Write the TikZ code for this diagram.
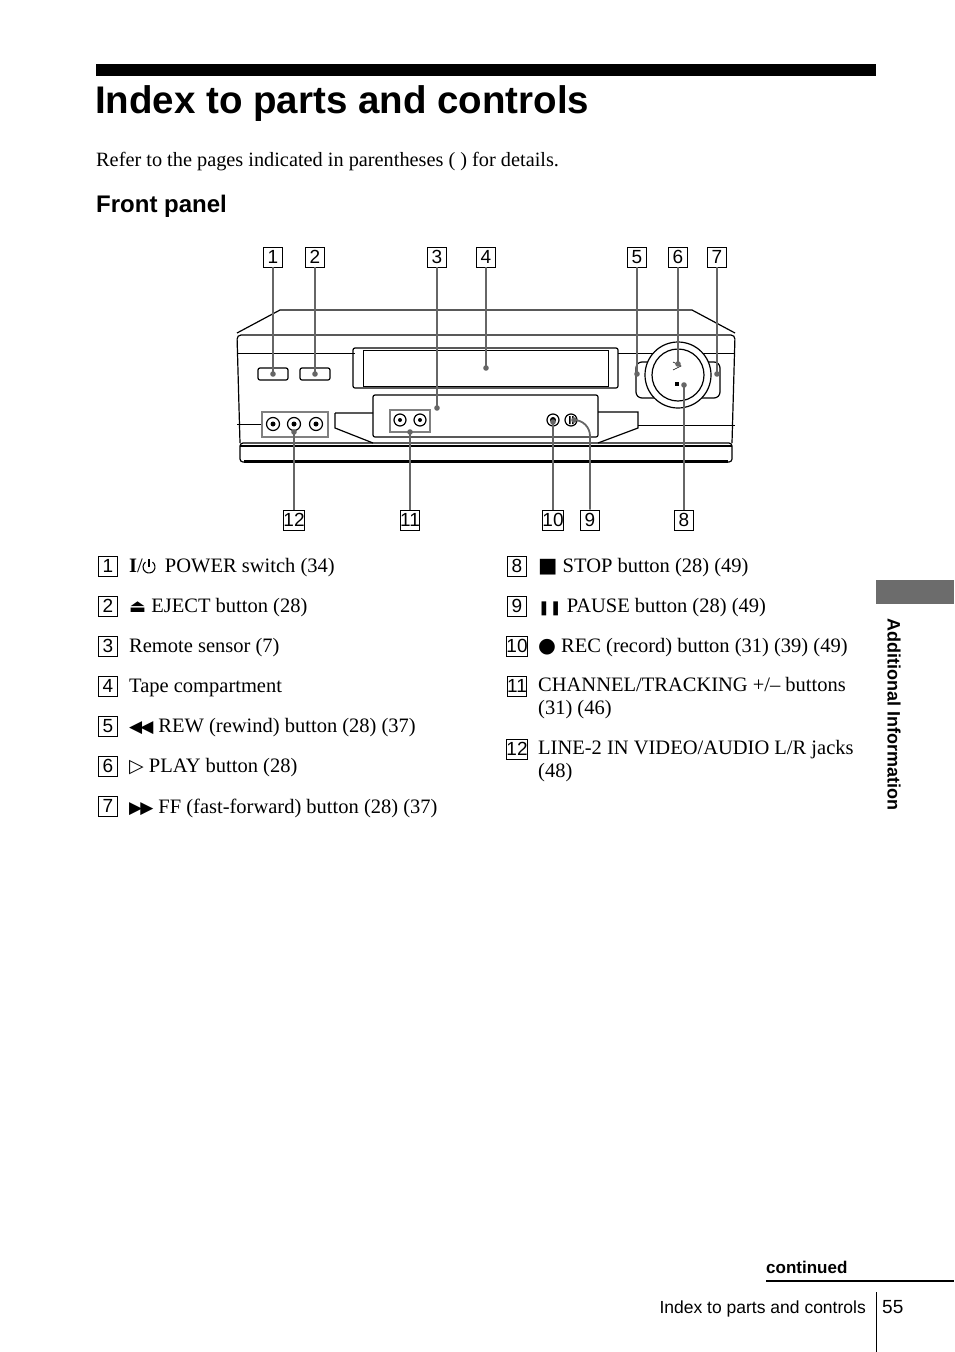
\documentclass[tikz,border=0pt]{standalone}
\usepackage{fontspec}
\setmainfont{Liberation Serif}
\setsansfont{Liberation Sans}
\newfontfamily\djv{DejaVu Sans}
\begin{document}
\begin{tikzpicture}[x=1pt,y=-1pt,
 nb/.style={draw,line width=0.8pt,minimum width=19pt,minimum height=20pt,inner sep=0pt,text height=13pt,text depth=1pt,font=\sffamily\fontsize{19}{19}\selectfont},
 it/.style={anchor=west,font=\fontsize{20.5}{23}\selectfont,inner sep=0pt,align=left},
 ld/.style={draw=gray!80!black,line width=1.8pt},
 vc/.style={line width=1.2pt}]
\useasboundingbox (0,0) rectangle (954,1352);
\fill (96,64) rectangle (876,76);
\node[anchor=west,font=\sffamily\bfseries\fontsize{38.5}{38}\selectfont,inner sep=0] (title) at (95,104) {Index to parts and controls};
\node[anchor=west,font=\fontsize{20.3}{22}\selectfont,inner sep=0] (refer) at (96,162) {Refer to the pages indicated in parentheses ( ) for details.};
\node[anchor=west,font=\sffamily\bfseries\fontsize{24}{24}\selectfont,inner sep=0] (fp) at (96,206) {Front panel};
% VCR
\draw[vc] (237,333) -- (280,310) -- (692,310) -- (735,333);
\draw[vc,rounded corners=4] (240,443) -- (237,335) -- (735,335) -- (732,443);
\draw[line width=1pt] (237,353) -- (355,353) (618,353) -- (735,353);
\draw[vc,rounded corners=3] (240,443) rectangle (732,462);
\draw[line width=3pt] (244,461) -- (728,461);
\draw[vc] (240,446) -- (732,446);
\draw[vc,rounded corners=2] (353,348) rectangle (618,388);
\draw[line width=0.8pt] (363,350) rectangle (608,386);
\draw[vc,rounded corners=2] (258,368) rectangle (288,380);
\draw[vc,rounded corners=2] (300,368) rectangle (330,380);
\draw[vc,rounded corners=2] (373,395) rectangle (598,437);
\draw[vc] (335,413) -- (373,413) (335,413) -- (335,428) -- (373,443);
\draw[vc] (598,412) -- (638,412) -- (638,428) -- (598,443);
\draw[line width=0.8pt] (638,425) -- (735,425) (237,424) -- (262,424);
\draw[line width=1.5pt,draw=gray] (262,412) rectangle (328,437);
\foreach \x in {273,294,316}{\draw[vc] (\x,424) circle (6.5); \fill (\x,424) circle (2.5);}
\draw[line width=1.5pt,draw=gray] (390,410) rectangle (430,432);
\foreach \x in {400,420}{\draw[vc] (\x,420) circle (6); \fill (\x,420) circle (2);}
\draw[vc] (553,420) circle (6); \fill (553,420) circle (3);
\draw[vc] (571,420) circle (6); \fill (569,416) rectangle (570.5,424) (572,416) rectangle (573.5,424);
\draw[vc,rounded corners=6] (636,362) rectangle (720,398);
\fill[white] (678,375) circle (33);
\draw[vc] (678,375) circle (33);
\draw[vc] (678,375) circle (26);
\draw[line width=0.6pt] (673,362) -- (681,366) -- (673,370);
\fill (675,382) rectangle (679,386);
% leaders
\foreach \n/\x/\y in {1/273/374,2/315/374,3/437/408,4/486/368,5/637/374,6/678/364,7/717/374}{
 \node[nb] (t\n) at (\x,257) {\n};
 \coordinate (e\n) at (\x,\y);
 \draw[ld] (t\n) -- (e\n); \fill[gray!80!black] (e\n) circle (2.8);}
\foreach \n/\x/\y in {12/294/432,11/410/432,10/553/422,8/684/385}{
 \node[nb] (t\n) at (\x,520) {\n};
 \coordinate (e\n) at (\x,\y);
 \draw[ld] (t\n) -- (e\n); \fill[gray!80!black] (e\n) circle (2.8);}
\node[nb] (t9) at (590,520) {9};
\coordinate (e9) at (574,420);
\draw[ld] (t9) -- (590,436) to[out=90,in=0] (e9);
\fill[gray!80!black] (e9) circle (2.8);
% list
\foreach \n/\y in {1/566,2/606,3/646,4/686,5/726,6/766,7/806}{\node[nb] (l\n) at (108,\y) {\n};}
\node[it] (i1) at (129,568) {\textbf{I}/\hspace{17pt} POWER switch (34)};
\draw[line width=1.1pt] (149,567) ++(-55:6) arc (-55:235:6);
\draw[line width=1.1pt] (149,559) -- (149,567);
\node[it] (i2) at (129,608) {{\djv\fontsize{18}{18}\selectfont ⏏} EJECT button (28)};
\node[it] (i3) at (129,648) {Remote sensor (7)};
\node[it] (i4) at (129,688) {Tape compartment};
\node[it] (i5) at (129,728) {{\djv\fontsize{17}{17}\selectfont ◀\kern-2pt◀} REW (rewind) button (28) (37)};
\node[it] (i6) at (129,768) {{\djv\fontsize{19}{19}\selectfont ▷} PLAY button (28)};
\node[it] (i7) at (129,808) {{\djv\fontsize{17}{17}\selectfont ▶\kern-2pt▶} FF (fast-forward) button (28) (37)};
\foreach \n/\y in {8/566,9/606,10/646,11/686,12/749}{\node[nb] (l\n) at (517,\y) {\n};}
\node[it] (i8) at (538,568) {{\djv ■} STOP button (28) (49)};
\node[it] (i9) at (538,608) {{\djv\fontsize{14}{14}\selectfont ❚❚} PAUSE button (28) (49)};
\node[it] (i10) at (538,648) {{\djv ●} REC (record) button (31) (39) (49)};
\node[it,anchor=north west] (i11) at (538,677) {CHANNEL/TRACKING +/– buttons\\(31) (46)};
\node[it,anchor=north west] (i12) at (538,740) {LINE-2 IN VIDEO/AUDIO L/R jacks\\(48)};
% side tab
\fill[gray!85!black] (876,580) rectangle (954,604);
\node[rotate=-90,anchor=west,font=\sffamily\bfseries\fontsize{18}{18}\selectfont,inner sep=0] (side) at (894,618) {Additional Information};
% footer
\node[anchor=west,font=\sffamily\bfseries\fontsize{17}{17}\selectfont,inner sep=0] (cont) at (766,1267) {continued};
\draw[line width=2pt] (766,1281) -- (954,1281);
\node[anchor=east,font=\sffamily\fontsize{17.5}{17}\selectfont,inner sep=0] (foot) at (866,1309) {Index to parts and controls};
\draw[line width=0.8pt] (876,1292) -- (876,1352);
\node[anchor=west,font=\sffamily\fontsize{19}{19}\selectfont,inner sep=0] (pg) at (882,1307) {55};
\end{tikzpicture}
\end{document}
